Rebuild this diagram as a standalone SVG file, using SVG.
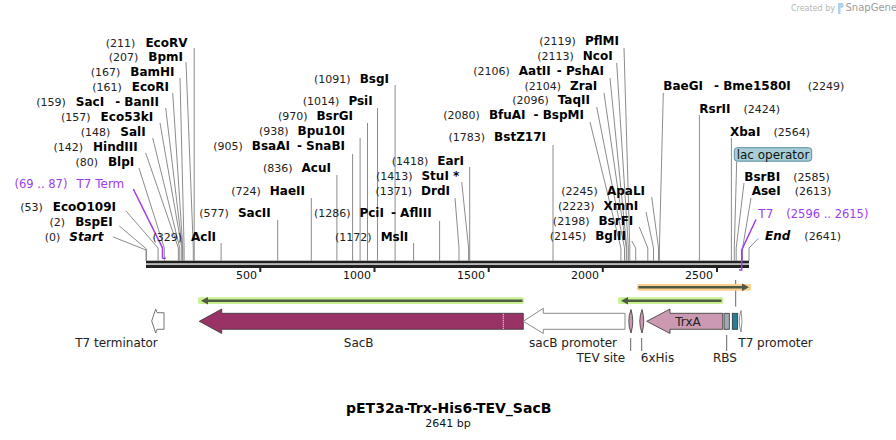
<svg xmlns="http://www.w3.org/2000/svg" width="896" height="440" viewBox="0 0 896 440">
<style>
text{font-family:"DejaVu Sans",Verdana,sans-serif;fill:#111}
.n{font-size:11px;font-weight:normal;fill:#222}
.b{font-size:12px;font-weight:bold;fill:#000}
.bi{font-size:12px;font-weight:bold;font-style:italic;fill:#000}
.p{fill:#a03cf0}
.f{font-size:12px;fill:#222}
.tk{font-size:11px;fill:#111}
.ln{fill:none;stroke:#8c8c8c;stroke-width:1}
.pl{fill:none;stroke:#a03cf0;stroke-width:1.5}
.ld{fill:none;stroke:#666;stroke-width:1}
.feat{stroke:#333;stroke-width:0.8}
</style>
<rect width="896" height="440" fill="#fff"/>

<g id="watermark">
<text x="835" y="10.5" text-anchor="end" style="font-size:8px;fill:#b4b4b4">Created by</text>
<path d="M838,3 L843,3 Q844.5,5 843,7.5 L840.5,8 L840.5,14 L838,14 Z" fill="#a8d4f0"/>
<text x="845.5" y="11" style="font-size:10px;fill:#9c9c9c">SnapGene</text>
</g>

<g id="backbone">
<rect x="146" y="260.7" width="603" height="2.7" fill="#222"/>
<rect x="146" y="264.7" width="603" height="3.3" fill="#222"/>
<g fill="#222">
<rect x="259.3" y="266" width="2" height="6"/>
<rect x="373.5" y="266" width="2" height="6"/>
<rect x="487.7" y="266" width="2" height="6"/>
<rect x="601.8" y="266" width="2" height="6"/>
<rect x="716" y="266" width="2" height="6"/>
</g>
<text class="tk" x="257" y="279" text-anchor="end">500</text>
<text class="tk" x="371" y="279" text-anchor="end">1000</text>
<text class="tk" x="485" y="279" text-anchor="end">1500</text>
<text class="tk" x="599" y="279" text-anchor="end">2000</text>
<text class="tk" x="713" y="279" text-anchor="end">2500</text>
</g>

<g id="connectors">
<polyline class="ln" points="194.2,48 194.2,261"/>
<polyline class="ln" points="186,62 193.3,248 193.3,261"/>
<polyline class="ln" points="180,78 184.1,248 184.1,261"/>
<polyline class="ln" points="172.7,93 182.8,248 182.8,261"/>
<polyline class="ln" points="165.7,108 182.3,248 182.3,261"/>
<polyline class="ln" points="160,123 181.8,248 181.8,261"/>
<polyline class="ln" points="152.7,138 179.8,248 179.8,261"/>
<polyline class="ln" points="145.7,153 178.4,248 178.4,261"/>
<polyline class="ln" points="139,168 164.3,248 164.3,261"/>
<polyline class="ln" points="126,211 158.1,248 158.1,261"/>
<polyline class="ln" points="119.3,226 146.5,249 146.5,261"/>
<polyline class="ln" points="113.3,237 146,250 146,261"/>
<polyline class="ln" points="221.1,243 221.1,261"/>
<polyline class="ln" points="277.7,220 277.7,261"/>
<polyline class="ln" points="311.3,198 311.3,261"/>
<polyline class="ln" points="336.9,175 336.9,261"/>
<polyline class="ln" points="352.6,154 352.6,261"/>
<polyline class="ln" points="360.1,138 360.1,261"/>
<polyline class="ln" points="367.5,123 367.5,261"/>
<polyline class="ln" points="377.5,108 377.5,261"/>
<polyline class="ln" points="395.1,85 395.1,261"/>
<polyline class="ln" points="439.6,221 439.6,261"/>
<polyline class="ln" points="413.6,243 413.6,261"/>
<polyline class="ln" points="469.7,167 469.7,261"/>
<polyline class="ln" points="461.7,182 468.6,248 468.6,261"/>
<polyline class="ln" points="455,198 459,248 459,261"/>
<polyline class="ln" points="553,145 553,261"/>
<polyline class="ln" points="590,122 620.9,248 620.9,261"/>
<polyline class="ln" points="596.7,107 624.5,248 624.5,261"/>
<polyline class="ln" points="604,93 626.3,248 626.3,261"/>
<polyline class="ln" points="610,78 626.8,248 626.8,261"/>
<polyline class="ln" points="616.7,63 628.4,248 628.4,261"/>
<polyline class="ln" points="624,48 629.8,248 629.8,261"/>
<polyline class="ln" points="631.7,241 635.7,248 635.7,261"/>
<polyline class="ln" points="639.3,227 647.8,248 647.8,261"/>
<polyline class="ln" points="646,212 653.5,248 653.5,261"/>
<polyline class="ln" points="651.7,197 658.5,248 658.5,261"/>
<polyline class="ln" points="663.3,93 659.4,248 659.4,261"/>
<polyline class="ln" points="699.4,115 699.4,261"/>
<polyline class="ln" points="731.4,138 731.4,261"/>
<polyline class="ln" points="736.7,161.5 734.3,248 734.3,261"/>
<polyline class="ln" points="744,183 736.2,248 736.2,261"/>
<polyline class="ln" points="751,198 742.6,248 742.6,261"/>
<polyline class="ln" points="758.3,238.5 749,248 749,261"/>
<polyline class="pl" points="133.3,189 162.5,248 162.5,257.5"/>
<polyline class="pl" points="161.8,258.2 165.8,258.2"/>
<polyline class="pl" points="756,219.5 741.7,250 741.7,270 738.9,270"/>
<line class="ld" x1="735.7" y1="280" x2="735.7" y2="306.5"/>
<line class="ld" x1="630.7" y1="338" x2="630.7" y2="351"/>
<line class="ld" x1="641.7" y1="338" x2="641.7" y2="351"/>
<line class="ld" x1="726.7" y1="335" x2="726.7" y2="351"/>
</g>

<g id="site-EcoRV"><text x="187.5" y="46.5" text-anchor="end"><tspan class="n">(211)</tspan><tspan class="b" dx="10">EcoRV</tspan></text></g>
<g id="site-BpmI"><text x="183" y="61" text-anchor="end"><tspan class="n">(207)</tspan><tspan class="b" dx="10">BpmI</tspan></text></g>
<g id="site-BamHI"><text x="174.5" y="76" text-anchor="end"><tspan class="n">(167)</tspan><tspan class="b" dx="10">BamHI</tspan></text></g>
<g id="site-EcoRI"><text x="169" y="91" text-anchor="end"><tspan class="n">(161)</tspan><tspan class="b" dx="10">EcoRI</tspan></text></g>
<g id="site-SacI"><text x="159" y="106" text-anchor="end"><tspan class="n">(159)</tspan><tspan class="b" dx="10">SacI</tspan><tspan class="b" dx="11">- BanII</tspan></text></g>
<g id="site-Eco53kI"><text x="153.3" y="121" text-anchor="end"><tspan class="n">(157)</tspan><tspan class="b" dx="10">Eco53kI</tspan></text></g>
<g id="site-SalI"><text x="145.7" y="136" text-anchor="end"><tspan class="n">(148)</tspan><tspan class="b" dx="10">SalI</tspan></text></g>
<g id="site-HindIII"><text x="137.7" y="151" text-anchor="end"><tspan class="n">(142)</tspan><tspan class="b" dx="10">HindIII</tspan></text></g>
<g id="site-BlpI"><text x="134.3" y="166" text-anchor="end"><tspan class="n">(80)</tspan><tspan class="b" dx="10">BlpI</tspan></text></g>
<g id="feat-T7Term"><text x="124.3" y="188" text-anchor="end" class="p"><tspan class="p" style="font-size:11.5px">(69 .. 87)</tspan><tspan class="p" dx="9" style="font-size:12px">T7 Term</tspan></text></g>
<g id="site-EcoO109I"><text x="116" y="211" text-anchor="end"><tspan class="n">(53)</tspan><tspan class="b" dx="10">EcoO109I</tspan></text></g>
<g id="site-BspEI"><text x="112.7" y="226" text-anchor="end"><tspan class="n">(2)</tspan><tspan class="b" dx="10">BspEI</tspan></text></g>
<g id="site-Start"><text x="103.5" y="241" text-anchor="end"><tspan class="n">(0)</tspan><tspan class="bi" dx="9">Start</tspan></text></g>
<g id="site-AclI"><text x="216" y="241" text-anchor="end"><tspan class="n">(329)</tspan><tspan class="b" dx="9">AclI</tspan></text></g>
<g id="site-SacII"><text x="270.7" y="217" text-anchor="end"><tspan class="n">(577)</tspan><tspan class="b" dx="9">SacII</tspan></text></g>
<g id="site-HaeII"><text x="305" y="195" text-anchor="end"><tspan class="n">(724)</tspan><tspan class="b" dx="9">HaeII</tspan></text></g>
<g id="site-AcuI"><text x="331" y="172" text-anchor="end"><tspan class="n">(836)</tspan><tspan class="b" dx="9">AcuI</tspan></text></g>
<g id="site-BsaAI"><text x="345" y="150" text-anchor="end"><tspan class="n">(905)</tspan><tspan class="b" dx="9">BsaAI</tspan><tspan class="b" dx="7">- SnaBI</tspan></text></g>
<g id="site-Bpu10I"><text x="345" y="135" text-anchor="end"><tspan class="n">(938)</tspan><tspan class="b" dx="9">Bpu10I</tspan></text></g>
<g id="site-BsrGI"><text x="353" y="120" text-anchor="end"><tspan class="n">(970)</tspan><tspan class="b" dx="9">BsrGI</tspan></text></g>
<g id="site-PsiI"><text x="372.7" y="105" text-anchor="end"><tspan class="n">(1014)</tspan><tspan class="b" dx="9">PsiI</tspan></text></g>
<g id="site-BsgI"><text x="389" y="83" text-anchor="end"><tspan class="n">(1091)</tspan><tspan class="b" dx="9">BsgI</tspan></text></g>
<g id="site-PciI"><text x="431.7" y="217" text-anchor="end"><tspan class="n">(1286)</tspan><tspan class="b" dx="9">PciI</tspan><tspan class="b" dx="7">- AflIII</tspan></text></g>
<g id="site-MslI"><text x="408.3" y="241" text-anchor="end"><tspan class="n">(1172)</tspan><tspan class="b" dx="9">MslI</tspan></text></g>
<g id="site-EarI"><text x="464" y="165" text-anchor="end"><tspan class="n">(1418)</tspan><tspan class="b" dx="9">EarI</tspan></text></g>
<g id="site-StuI"><text x="459.3" y="179.5" text-anchor="end"><tspan class="n">(1413)</tspan><tspan class="b" dx="9">StuI *</tspan></text></g>
<g id="site-DrdI"><text x="450" y="195" text-anchor="end"><tspan class="n">(1371)</tspan><tspan class="b" dx="9">DrdI</tspan></text></g>
<g id="site-BstZ17I"><text x="546" y="141" text-anchor="end"><tspan class="n">(1783)</tspan><tspan class="b" dx="9">BstZ17I</tspan></text></g>
<g id="site-BfuAI"><text x="584" y="119" text-anchor="end"><tspan class="n">(2080)</tspan><tspan class="b" dx="9">BfuAI</tspan><tspan class="b" dx="8">- BspMI</tspan></text></g>
<g id="site-TaqII"><text x="590" y="104" text-anchor="end"><tspan class="n">(2096)</tspan><tspan class="b" dx="9">TaqII</tspan></text></g>
<g id="site-ZraI"><text x="597.3" y="90" text-anchor="end"><tspan class="n">(2104)</tspan><tspan class="b" dx="9">ZraI</tspan></text></g>
<g id="site-AatII"><text x="604" y="75" text-anchor="end"><tspan class="n">(2106)</tspan><tspan class="b" dx="9">AatII</tspan><tspan class="b" dx="6">- PshAI</tspan></text></g>
<g id="site-NcoI"><text x="612.7" y="60" text-anchor="end"><tspan class="n">(2113)</tspan><tspan class="b" dx="9">NcoI</tspan></text></g>
<g id="site-PflMI"><text x="619" y="45" text-anchor="end"><tspan class="n">(2119)</tspan><tspan class="b" dx="9">PflMI</tspan></text></g>
<g id="site-BglII"><text x="626" y="240" text-anchor="end"><tspan class="n">(2145)</tspan><tspan class="b" dx="9">BglII</tspan></text></g>
<g id="site-BsrFI"><text x="633.3" y="225" text-anchor="end"><tspan class="n">(2198)</tspan><tspan class="b" dx="9">BsrFI</tspan></text></g>
<g id="site-XmnI"><text x="638.3" y="210" text-anchor="end"><tspan class="n">(2223)</tspan><tspan class="b" dx="9">XmnI</tspan></text></g>
<g id="site-ApaLI"><text x="645" y="195" text-anchor="end"><tspan class="n">(2245)</tspan><tspan class="b" dx="9">ApaLI</tspan></text></g>
<g id="site-BaeGI"><text x="663.3" y="90"><tspan class="b">BaeGI</tspan><tspan class="b" dx="11">- Bme1580I</tspan><tspan class="n" dx="17">(2249)</tspan></text></g>
<g id="site-RsrII"><text x="699.3" y="113"><tspan class="b">RsrII</tspan><tspan class="n" dx="13">(2424)</tspan></text></g>
<g id="site-XbaI"><text x="730" y="136"><tspan class="b">XbaI</tspan><tspan class="n" dx="13">(2564)</tspan></text></g>
<g id="feat-lacop">
<rect x="734.3" y="147.7" width="77.4" height="13.5" rx="3" fill="#a9cdd6" stroke="#5b8f9f" stroke-width="1"/>
<text x="773" y="158.5" text-anchor="middle" style="font-size:12px;fill:#111">lac operator</text>
</g>
<g id="site-BsrBI"><text x="744.3" y="181"><tspan class="b">BsrBI</tspan><tspan class="n" dx="13">(2585)</tspan></text></g>
<g id="site-AseI"><text x="751.7" y="195"><tspan class="b">AseI</tspan><tspan class="n" dx="14">(2613)</tspan></text></g>
<g id="feat-T7"><text x="758.3" y="218"><tspan class="p" style="font-size:12px">T7</tspan><tspan class="p" dx="13" style="font-size:11.5px">(2596 .. 2615)</tspan></text></g>
<g id="site-End"><text x="765" y="240"><tspan class="bi">End</tspan><tspan class="n" dx="14">(2641)</tspan></text></g>

<g id="orf-1">
<rect x="198" y="297.3" width="326" height="6.8" rx="2" fill="#c8f290"/>
<line x1="207" y1="300.7" x2="522.5" y2="300.7" stroke="#4e5a44" stroke-width="2.5"/>
<polygon points="201,300.7 208,297 208,304.4" fill="#4e5a44"/>
</g>
<g id="orf-2">
<rect x="618" y="297.3" width="105.5" height="6.8" rx="2" fill="#c8f290"/>
<line x1="627" y1="300.7" x2="721.5" y2="300.7" stroke="#4e5a44" stroke-width="2.5"/>
<polygon points="621,300.7 628,297 628,304.4" fill="#4e5a44"/>
</g>
<g id="orf-3">
<rect x="637" y="283.9" width="114" height="6.8" rx="2" fill="#fcd08c"/>
<line x1="638.5" y1="287.3" x2="742" y2="287.3" stroke="#4e5a44" stroke-width="2.5"/>
<polygon points="749,287.3 742,283.6 742,291" fill="#4e5a44"/>
</g>

<g id="feat-T7terminator">
<polygon points="164,312.7 157,312.7 155.7,309 151.7,321 155.7,333 157,329.3 164,329.3" fill="#fff" stroke="#777" stroke-width="1"/>
<text class="f" x="116.5" y="346.5" text-anchor="middle">T7 terminator</text>
</g>
<g id="feat-SacB">
<polygon class="feat" points="523.3,313.3 221.7,313.3 221.7,309 199.3,321.3 221.7,333.5 221.7,329.3 523.3,329.3" fill="#993366"/>
<line x1="503.3" y1="313.8" x2="503.3" y2="328.8" stroke="#fff" stroke-width="1" stroke-dasharray="1,1"/>
<text class="f" x="358.7" y="346.5" text-anchor="middle">SacB</text>
</g>
<g id="feat-sacBpromoter">
<polygon points="625,313.3 543.3,313.3 543.3,308.3 523.3,321.3 543.3,333.5 543.3,329.3 625,329.3" fill="#fff" stroke="#8a8a8a" stroke-width="1"/>
<text class="f" x="573" y="346.5" text-anchor="middle">sacB promoter</text>
</g>
<g id="feat-TEV">
<path class="feat" d="M631,309.5 Q626.5,321.3 631,333 Q634.5,321.3 631,309.5 Z" fill="#cc99b3"/>
<text class="f" x="600.8" y="362" text-anchor="middle">TEV site</text>
</g>
<g id="feat-6xHis">
<path class="feat" d="M642,309.5 Q637.5,321.3 642,333 Q645.5,321.3 642,309.5 Z" fill="#cc99b3"/>
<text class="f" x="657.5" y="362" text-anchor="middle">6xHis</text>
</g>
<g id="feat-TrxA">
<polygon class="feat" points="722.7,313.3 670,313.3 670,309 646.7,321.3 670,333.5 670,329.3 722.7,329.3" fill="#cc99b2"/>
<text class="f" x="688" y="325.5" text-anchor="middle">TrxA</text>
</g>
<g id="feat-RBS">
<rect class="feat" x="724" y="313.3" width="5.3" height="16" fill="#a2aab1"/>
<text class="f" x="725" y="362" text-anchor="middle">RBS</text>
</g>
<g id="feat-lacop-bar">
<rect class="feat" x="732.3" y="313.3" width="5.4" height="16" fill="#2b7d95"/>
</g>
<g id="feat-T7promoter">
<path d="M741,310.5 Q737.5,321.3 741,332 Q743,321.3 741,310.5 Z" fill="#fff" stroke="#777" stroke-width="0.8"/>
<text class="f" x="738.3" y="346.5">T7 promoter</text>
</g>

<g id="title">
<text x="448.7" y="413" text-anchor="middle" style="font-size:14px;font-weight:bold;fill:#000">pET32a-Trx-His6-TEV_SacB</text>
<text x="448" y="427" text-anchor="middle" style="font-size:11px;fill:#111">2641 bp</text>
</g>
</svg>
